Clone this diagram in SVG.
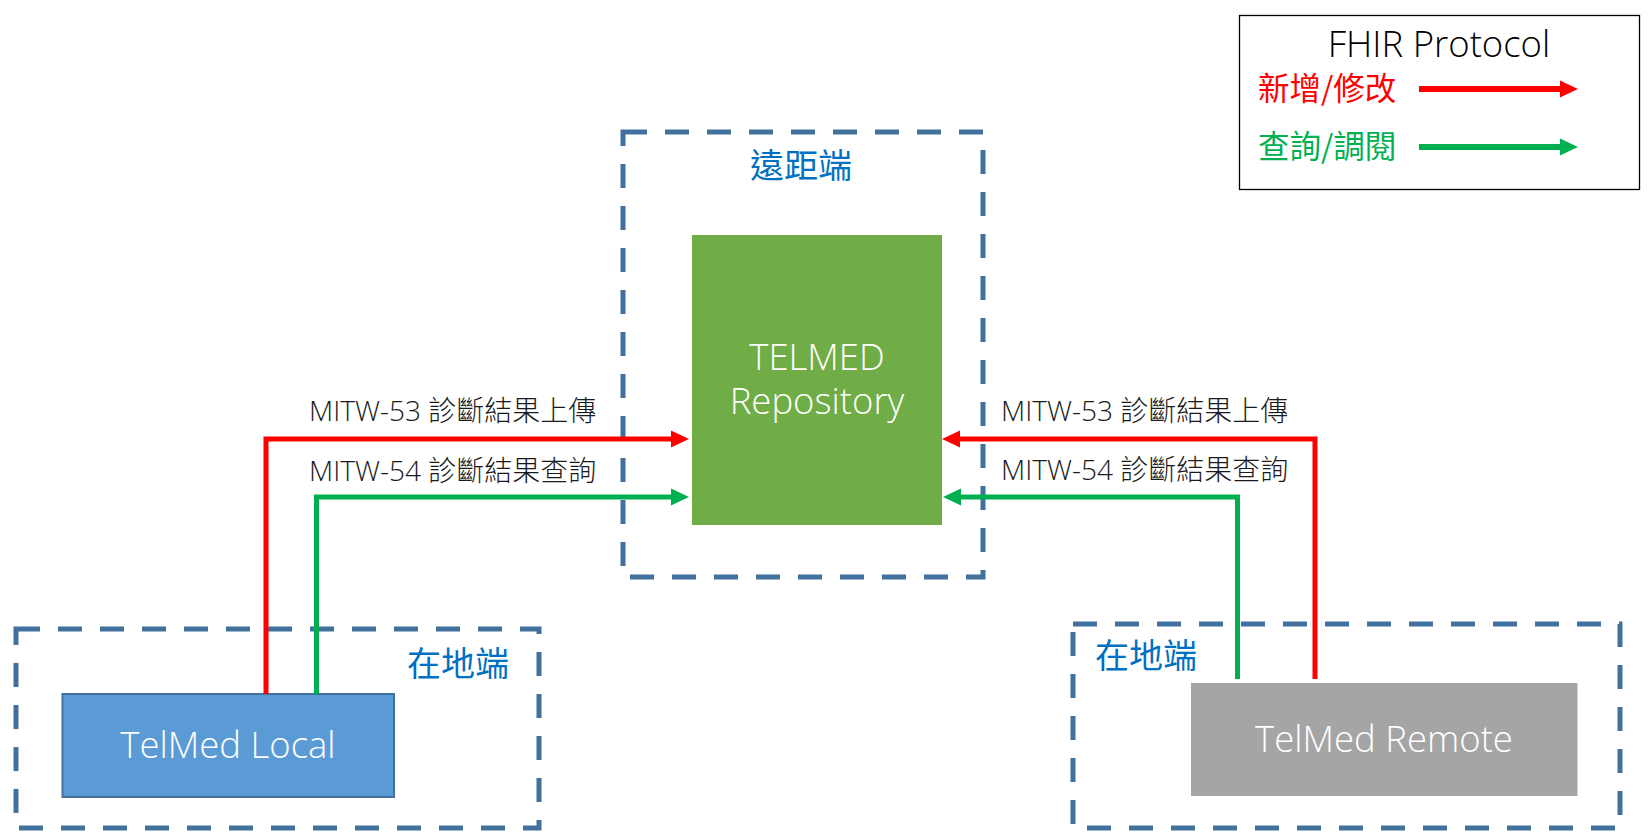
<svg xmlns="http://www.w3.org/2000/svg" width="1649" height="839" viewBox="0 0 1649 839">
<defs>
<style>
.zone{fill:none;stroke:#41719C;stroke-width:5;stroke-dasharray:24 18}
.lat{font-family:"Open Sans","Noto Sans CJK TC",sans-serif;font-weight:300}
.cjk{font-family:"Noto Sans CJK TC","Noto Sans CJK SC",sans-serif}
.zl{fill:#0070C0;font-size:34px}
.nl{fill:#FFFFFF;font-size:36.5px;text-anchor:middle}
.el{fill:#1A1A1A;font-size:28px}
.red{fill:none;stroke:#FF0000;stroke-width:5}
.grn{fill:none;stroke:#00B050;stroke-width:5}
</style>
<marker id="ar" markerUnits="userSpaceOnUse" markerWidth="18" markerHeight="18" refX="4" refY="8.5" orient="auto" viewBox="0 0 18 17">
<path d="M0,0 L18,8.5 L0,17 z" fill="#FF0000"/>
</marker>
<marker id="ag" markerUnits="userSpaceOnUse" markerWidth="18" markerHeight="18" refX="4" refY="8.5" orient="auto" viewBox="0 0 18 17">
<path d="M0,0 L18,8.5 L0,17 z" fill="#00B050"/>
</marker>
</defs>
<rect width="1649" height="839" fill="#FFFFFF"/>

<g id="zone-remote-center">
<rect class="zone" x="623" y="132" width="360" height="445"/>
<text class="cjk zl" x="801" y="178" text-anchor="middle">遠距端</text>
</g>
<g id="zone-local">
<rect class="zone" x="16" y="629" width="523" height="199"/>
<text class="cjk zl" x="509" y="676" text-anchor="end">在地端</text>
</g>
<g id="zone-remote-site">
<rect class="zone" x="1073" y="624" width="547" height="204"/>
<text class="cjk zl" x="1095" y="668">在地端</text>
</g>

<g id="repository">
<rect x="692" y="235" width="250" height="290" fill="#70AD47"/>
<text class="lat nl" x="817" y="370">TELMED</text>
<text class="lat nl" x="817" y="414">Repository</text>
</g>
<g id="telmed-local">
<rect x="62.5" y="694" width="331.5" height="103" fill="#5B9BD5" stroke="#41719C" stroke-width="2"/>
<text class="lat nl" x="228" y="758">TelMed Local</text>
</g>
<g id="telmed-remote">
<rect x="1191" y="683" width="386.5" height="113" fill="#A5A5A5"/>
<text class="lat nl" x="1384" y="752">TelMed Remote</text>
</g>

<g id="connectors">
<path class="red" d="M266,694 V439 H675" marker-end="url(#ar)"/>
<path class="grn" d="M316.5,694 V497 H675" marker-end="url(#ag)"/>
<path class="red" d="M1315,679 V439 H956" marker-end="url(#ar)"/>
<path class="grn" d="M1237.5,679 V497 H957" marker-end="url(#ag)"/>
<text class="lat el" x="309" y="421">MITW-53 診斷結果上傳</text>
<text class="lat el" x="309" y="481">MITW-54 診斷結果查詢</text>
<text class="lat el" x="1001" y="421">MITW-53 診斷結果上傳</text>
<text class="lat el" x="1001" y="480">MITW-54 診斷結果查詢</text>
</g>

<g id="legend">
<rect x="1239.5" y="15.5" width="400" height="174" fill="#FFFFFF" stroke="#000000" stroke-width="1.3"/>
<text class="lat" x="1439" y="57" font-size="36.5" fill="#000000" text-anchor="middle">FHIR Protocol</text>
<text class="cjk" x="1258" y="100" font-size="31.5" fill="#FF0000">新增/修改</text>
<text class="cjk" x="1258" y="158" font-size="31.5" fill="#00B050">查詢/調閱</text>
<path d="M1419,89 H1564" stroke="#FF0000" stroke-width="6" marker-end="url(#ar)"/>
<path d="M1419,147 H1564" stroke="#00B050" stroke-width="6" marker-end="url(#ag)"/>
</g>
</svg>
